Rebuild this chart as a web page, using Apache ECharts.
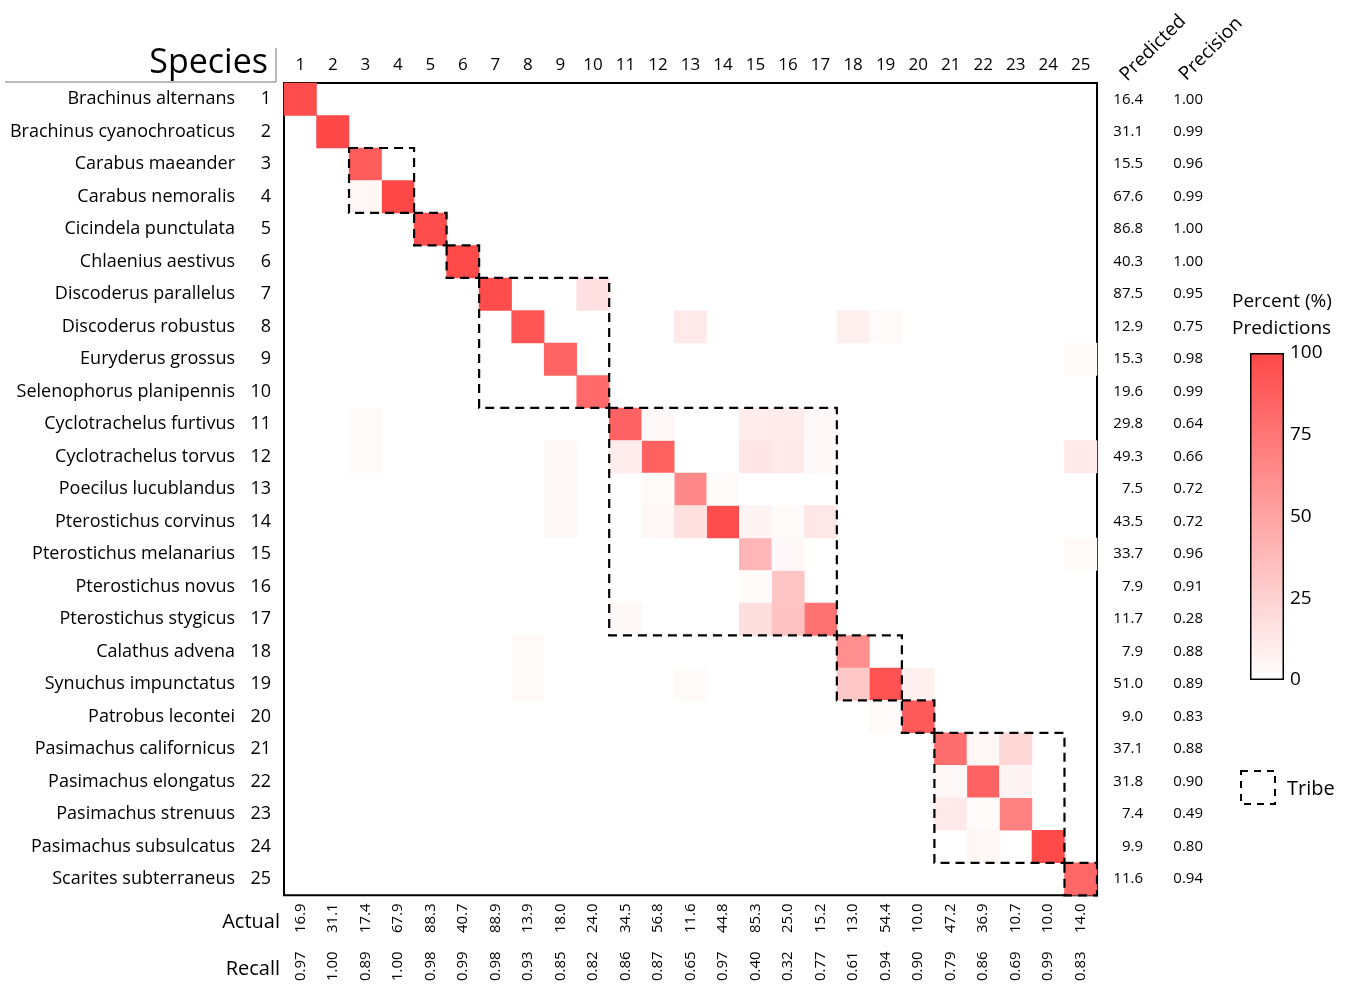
<!DOCTYPE html>
<html>
<head>
<meta charset="utf-8">
<script src="https://cdn.jsdelivr.net/npm/echarts@6/dist/echarts.min.js"></script>
<style>
  html, body { margin: 0; padding: 0; background: #fff; }
  #main { width: 1351px; height: 984px; }
</style>
</head>
<body>
<div id="main"></div>
<script>
// species, one per row / column
var species = [
  'Brachinus alternans', 'Brachinus cyanochroaticus', 'Carabus maeander', 'Carabus nemoralis',
  'Cicindela punctulata', 'Chlaenius aestivus', 'Discoderus parallelus', 'Discoderus robustus',
  'Euryderus grossus', 'Selenophorus planipennis', 'Cyclotrachelus furtivus', 'Cyclotrachelus torvus',
  'Poecilus lucublandus', 'Pterostichus corvinus', 'Pterostichus melanarius', 'Pterostichus novus',
  'Pterostichus stygicus', 'Calathus advena', 'Synuchus impunctatus', 'Patrobus lecontei',
  'Pasimachus californicus', 'Pasimachus elongatus', 'Pasimachus strenuus', 'Pasimachus subsulcatus',
  'Scarites subterraneus'
];
var colNums = ['1','2','3','4','5','6','7','8','9','10','11','12','13','14','15','16','17','18','19','20','21','22','23','24','25'];

// right side (rows)
var predicted = ['16.4','31.1','15.5','67.6','86.8','40.3','87.5','12.9','15.3','19.6','29.8','49.3','7.5',
                 '43.5','33.7','7.9','11.7','7.9','51.0','9.0','37.1','31.8','7.4','9.9','11.6'];
var precision = ['1.00','0.99','0.96','0.99','1.00','1.00','0.95','0.75','0.98','0.99','0.64','0.66','0.72',
                 '0.72','0.96','0.91','0.28','0.88','0.89','0.83','0.88','0.90','0.49','0.80','0.94'];

// bottom (columns)
var actual = ['16.9','31.1','17.4','67.9','88.3','40.7','88.9','13.9','18.0','24.0','34.5','56.8','11.6',
              '44.8','85.3','25.0','15.2','13.0','54.4','10.0','47.2','36.9','10.7','10.0','14.0'];
var recall = ['0.97','1.00','0.89','1.00','0.98','0.99','0.98','0.93','0.85','0.82','0.86','0.87','0.65',
              '0.97','0.40','0.32','0.77','0.61','0.94','0.90','0.79','0.86','0.69','0.99','0.83'];

// percent of predictions, diagonal cells
var diag = [97, 100, 89, 100, 98, 99, 98, 93, 85, 82, 86, 87, 65, 97, 40, 32, 77, 61, 94, 90, 79, 86, 69, 99, 83];
// off-diagonal cells: [row (predicted), column (actual), percent]
var offDiag = [
  [4, 3, 5], [11, 3, 3], [12, 3, 3],
  [7, 10, 17],
  [8, 13, 12], [8, 18, 8], [8, 19, 3],
  [9, 25, 3],
  [11, 12, 4], [11, 15, 10], [11, 16, 11], [11, 17, 4],
  [12, 9, 4], [12, 11, 10], [12, 15, 14], [12, 16, 12], [12, 17, 4], [12, 25, 12],
  [13, 9, 4], [13, 12, 2], [13, 14, 2],
  [14, 9, 4], [14, 12, 5], [14, 13, 17], [14, 15, 6], [14, 16, 2], [14, 17, 13],
  [15, 16, 4], [15, 25, 3],
  [16, 15, 2],
  [17, 11, 4], [17, 15, 18], [17, 16, 33],
  [18, 8, 3],
  [19, 8, 3], [19, 13, 3], [19, 18, 30], [19, 20, 8],
  [20, 19, 2],
  [21, 22, 5], [21, 23, 22],
  [22, 21, 4], [22, 23, 6],
  [23, 21, 12], [23, 22, 2],
  [24, 22, 5]
];

// tribe groups (first and last species number)
var tribeFirst = [3, 5, 6, 7, 11, 18, 20, 21, 25];
var tribeLast  = [4, 5, 6, 10, 17, 19, 20, 24, 25];

var FONT = 'Open Sans';

var heatData = [];
diag.forEach(function (v, i) { heatData.push([i, i, v]); });
offDiag.forEach(function (d) { heatData.push([d[1] - 1, d[0] - 1, d[2]]); });

var tribeData = tribeFirst.map(function (f, i) { return [f - 1, tribeLast[i] - 1]; });

var myChart = echarts.init(document.getElementById('main'));

var option = {
  backgroundColor: '#fff',
  textStyle: { fontFamily: FONT, color: '#000' },
  animation: false,
  grid: [
    { left: 284, top: 83, width: 813, height: 815, show: true, borderColor: '#000', borderWidth: 2, backgroundColor: '#fff' },
    { left: 1250, top: 353, width: 34, height: 327 }
  ],
  xAxis: [
    {
      type: 'category', gridIndex: 0, position: 'top', data: colNums,
      axisLine: { show: false }, axisTick: { show: false }, splitLine: { show: false },
      axisLabel: { fontSize: 17, margin: 9, color: '#000' }
    },
    {
      type: 'category', gridIndex: 0, position: 'bottom', data: colNums,
      axisLine: { show: false }, axisTick: { show: false },
      axisLabel: {
        fontSize: 15, margin: 8, rotate: 90, color: '#000',
        formatter: function (v, i) { return actual[i]; }
      }
    },
    {
      type: 'category', gridIndex: 0, position: 'bottom', offset: 48, data: colNums,
      axisLine: { show: false }, axisTick: { show: false },
      axisLabel: {
        fontSize: 15, margin: 8, rotate: 90, color: '#000',
        formatter: function (v, i) { return recall[i]; }
      }
    },
    { type: 'category', gridIndex: 1, data: ['bar'], show: false }
  ],
  yAxis: [
    {
      type: 'category', gridIndex: 0, inverse: true, data: species,
      axisLine: { show: false }, axisTick: { show: false }, splitLine: { show: false },
      axisLabel: {
        margin: 13, color: '#000',
        formatter: function (v, i) { return '{n|' + v + '}{i|' + (i + 1) + '}'; },
        rich: {
          n: { fontSize: 18, fontFamily: FONT, color: '#000' },
          i: { fontSize: 18, fontFamily: FONT, color: '#000', width: 36, align: 'right' }
        }
      }
    },
    {
      type: 'category', gridIndex: 0, inverse: true, position: 'right', data: species,
      axisLine: { show: false }, axisTick: { show: false },
      axisLabel: {
        margin: 13,
        formatter: function (v, i) { return '{a|' + predicted[i] + '}{b|' + precision[i] + '}'; },
        rich: {
          a: { fontSize: 15, fontFamily: FONT, color: '#000', width: 33, align: 'right' },
          b: { fontSize: 15, fontFamily: FONT, color: '#000', width: 60, align: 'right' }
        }
      }
    },
    {
      type: 'value', gridIndex: 1, position: 'right', min: 0, max: 100, interval: 25,
      axisLine: { show: false }, axisTick: { show: false }, splitLine: { show: false },
      axisLabel: { fontSize: 19, margin: 6, color: '#000' }
    }
  ],
  visualMap: {
    show: false, min: 0, max: 100, seriesIndex: 0, dimension: 2,
    inRange: { color: ['#ffffff', '#ff4848'] }
  },
  series: [
    {
      type: 'heatmap', xAxisIndex: 0, yAxisIndex: 0, data: heatData,
      itemStyle: { borderWidth: 0 }
    },
    {
      type: 'custom', xAxisIndex: 0, yAxisIndex: 0, data: tribeData, z: 10,
      renderItem: function (params, api) {
        var a = api.coord([api.value(0), api.value(0)]);
        var b = api.coord([api.value(1), api.value(1)]);
        var s = api.size([1, 1]);
        return {
          type: 'rect',
          shape: { x: a[0] - s[0] / 2, y: a[1] - s[1] / 2, width: b[0] - a[0] + s[0], height: b[1] - a[1] + s[1] },
          style: { fill: null, stroke: '#000', lineWidth: 2.2, lineDash: [9, 6] }
        };
      }
    },
    {
      type: 'bar', xAxisIndex: 3, yAxisIndex: 2, data: [100], barWidth: '100%',
      itemStyle: {
        color: new echarts.graphic.LinearGradient(0, 0, 0, 1, [
          { offset: 0, color: '#ff4848' }, { offset: 1, color: '#ffffff' }
        ]),
        borderColor: '#000', borderWidth: 1.5
      }
    }
  ],
  graphic: [
    { type: 'text', x: 268, y: 63, style: { text: 'Species', font: '34px "Open Sans"', fill: '#000', textAlign: 'right', textVerticalAlign: 'middle' } },
    { type: 'polyline', shape: { points: [[5, 82], [276, 82], [276, 48]] }, style: { stroke: '#777', lineWidth: 1, fill: null } },
    { type: 'text', x: 280, y: 922, style: { text: 'Actual', font: '20px "Open Sans"', fill: '#000', textAlign: 'right', textVerticalAlign: 'middle' } },
    { type: 'text', x: 280, y: 969, style: { text: 'Recall', font: '20px "Open Sans"', fill: '#000', textAlign: 'right', textVerticalAlign: 'middle' } },
    { type: 'text', x: 1153, y: 48, rotation: Math.PI / 4, style: { text: 'Predicted', font: '19px "Open Sans"', fill: '#000', textAlign: 'center', textVerticalAlign: 'middle' } },
    { type: 'text', x: 1211, y: 49, rotation: Math.PI / 4, style: { text: 'Precision', font: '19px "Open Sans"', fill: '#000', textAlign: 'center', textVerticalAlign: 'middle' } },
    { type: 'text', x: 1232, y: 302, style: { text: 'Percent (%)', font: '19px "Open Sans"', fill: '#000', textVerticalAlign: 'middle' } },
    { type: 'text', x: 1232, y: 329, style: { text: 'Predictions', font: '19px "Open Sans"', fill: '#000', textVerticalAlign: 'middle' } },
    { type: 'rect', shape: { x: 1241, y: 771, width: 34, height: 33 }, style: { fill: null, stroke: '#000', lineWidth: 2, lineDash: [7, 6] } },
    { type: 'text', x: 1287, y: 789, style: { text: 'Tribe', font: '20px "Open Sans"', fill: '#000', textVerticalAlign: 'middle' } }
  ]
};

myChart.setOption(option);
</script>
</body>
</html>
